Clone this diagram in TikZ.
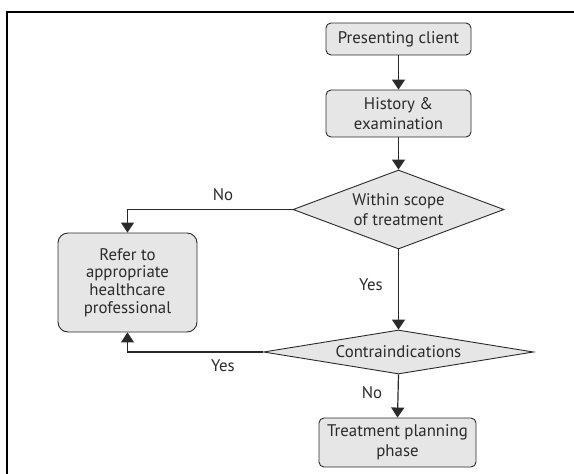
\documentclass[tikz,border=0pt]{standalone}
\usepackage{fontspec}
\setmainfont{PT Sans}
\usetikzlibrary{shapes.geometric,arrows.meta}
\definecolor{boxfill}{HTML}{E6E6E6}
\definecolor{ink}{HTML}{2A2A2A}
\begin{document}
\begin{tikzpicture}[x=1pt,y=-1pt,
  txt/.style={text=ink, font=\fontsize{16.8}{20}\selectfont},
  box/.style={txt, draw=ink, fill=boxfill, line width=0.9pt, rounded corners=5pt, align=center, inner sep=0pt},
  dec/.style={txt, diamond, draw=ink, fill=boxfill, line width=0.9pt, align=center, inner sep=0pt},
  arr/.style={draw=ink, line width=1.2pt, -{Triangle[length=10pt,width=13pt]}},
  lab/.style={txt, inner sep=0pt}]
\useasboundingbox (0,0) rectangle (574,474);
\draw[line width=2pt] (7,480) -- (7,12) -- (580,12);

\node[box, minimum width=145pt, minimum height=32pt] (pc) at (398.5,39) {Presenting client};
\node[box, minimum width=145pt, minimum height=47pt] (hist) at (398.5,113.5) {History \&\\examination};
\node[dec, aspect=2.67, minimum width=211pt, minimum height=79pt] (d1) at (398.5,209.5) {Within scope\\of treatment};
\node[box, rounded corners=10pt, minimum width=139pt, minimum height=99pt, font=\fontsize{16.8}{17.8}\selectfont] (ref) at (127.5,282.5) {Refer to\\appropriate\\healthcare\\professional};
\node[dec, aspect=6, minimum width=270pt, minimum height=44pt] (d2) at (398.5,352) {Contraindications};
\node[box, minimum width=157pt, minimum height=49pt] (tp) at (397.5,442.5) {Treatment planning\\phase};

\coordinate (c1) at (ref.north |- d1.west);
\coordinate (c2) at (ref.south |- d2.west);

\draw[arr] (pc) -- (hist);
\draw[arr] (hist) -- (d1);
\draw[arr] (d1.west) -- (c1) -- (ref.north);
\draw[arr] (d1.south) -- (d2.north);
\draw[arr] (d2.west) -- (c2) -- (ref.south);
\draw[arr] (d2.south) -- (tp.north);

\node[lab] (l1) at (223,195) {No};
\node[lab] (l2) at (371,285) {Yes};
\node[lab] (l3) at (223,366) {Yes};
\node[lab] (l4) at (372,393) {No};
\end{tikzpicture}
\end{document}
